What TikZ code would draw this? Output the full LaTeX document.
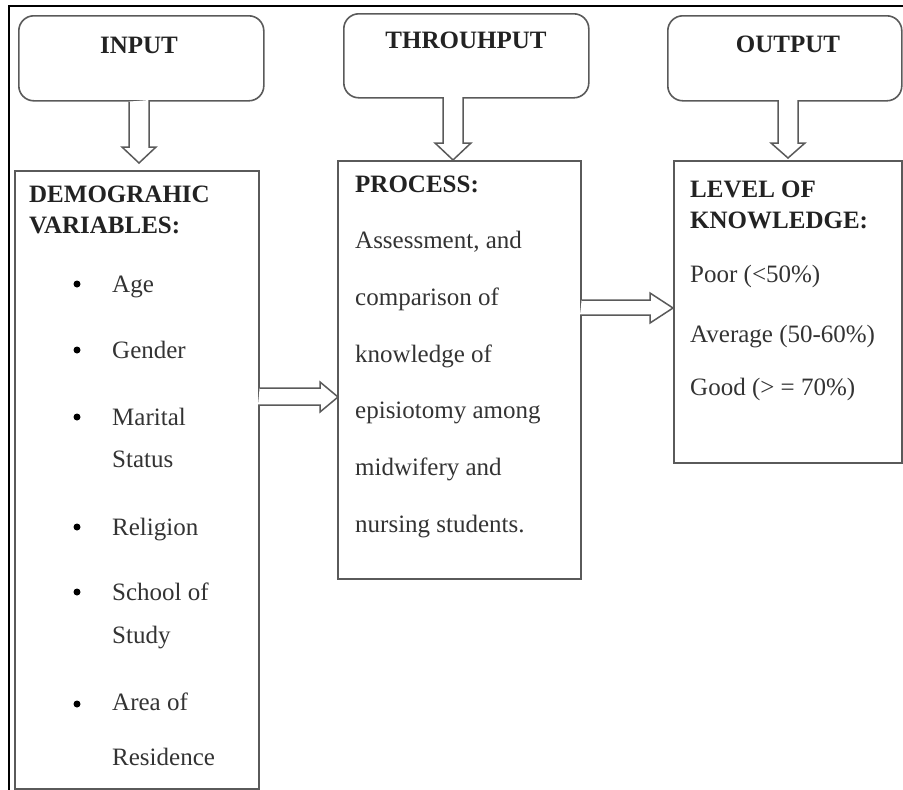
\documentclass[tikz,border=0pt]{standalone}
\usepackage{fontspec}
\setmainfont{Liberation Serif}
\usetikzlibrary{calc}
\definecolor{boxline}{HTML}{5A5A5A}
\definecolor{txt}{HTML}{222222}
\definecolor{ptxtc}{HTML}{333333}
\begin{document}
\begin{tikzpicture}[x=1pt,y=-1pt,
  box/.style={draw=boxline,line width=1.6pt,rectangle,inner sep=0pt,anchor=north west},
  headbox/.style={box,rounded corners=15pt},
  headtxt/.style={font=\fontsize{25}{25}\selectfont\bfseries,text=txt,inner sep=0pt,anchor=base},
  btxt/.style={font=\fontsize{25}{25}\selectfont\bfseries,text=txt,inner sep=0pt,anchor=base west},
  ptxt/.style={font=\fontsize{25}{25}\selectfont,text=ptxtc,inner sep=0pt,anchor=base west},
  bul/.style={circle,fill=black,inner sep=0pt,minimum size=7pt},
  blockarrow/.style={draw=boxline,line width=1.5pt,fill=white,line join=miter}]
\useasboundingbox (0,0) rectangle (903,790);
% outer frame (top and left edges)
\draw[black,line width=1.6pt] (9,790) -- (9,6) -- (903,6);

% header boxes
\node[headbox,minimum width=245pt,minimum height=85pt] (inp) at (18,15) {};
\node[headbox,minimum width=245pt,minimum height=84pt] (thr) at (343,13) {};
\node[headbox,minimum width=234pt,minimum height=85pt] (outp) at (667,15) {};
\node[headtxt] (inptxt) at (139,53) {INPUT};
\node[headtxt] (thrtxt) at (466,48) {THROUHPUT};
\node[headtxt] (outtxt) at (788,52) {OUTPUT};

% content boxes
\node[box,minimum width=244pt,minimum height=618pt] (demo) at (14,170) {};
\node[box,minimum width=243pt,minimum height=418pt] (proc) at (337,160) {};
\node[box,minimum width=228pt,minimum height=302pt] (lvl) at (673,160) {};

% demographic text
\node[btxt] (d1) at (29,202) {DEMOGRAHIC};
\node[btxt] (d2) at (29,233) {VARIABLES:};
\node[bul] (b1) at (77,284) {};
\node[ptxt] (i1) at (112,292) {Age};
\node[bul] (b2) at (77,350) {};
\node[ptxt] (i2) at (112,358) {Gender};
\node[bul] (b3) at (77,417) {};
\node[ptxt] (i3) at (112,425) {Marital};
\node[ptxt] (i3b) at (112,467) {Status};
\node[bul] (b4) at (77,527) {};
\node[ptxt] (i4) at (112,535) {Religion};
\node[bul] (b5) at (77,592) {};
\node[ptxt] (i5) at (112,600) {School of};
\node[ptxt] (i5b) at (112,643) {Study};
\node[bul] (b6) at (77,704) {};
\node[ptxt] (i6) at (112,710) {Area of};
\node[ptxt] (i6b) at (112,765) {Residence};

% process text
\node[btxt] (p0) at (355,192) {PROCESS:};
\node[ptxt] (p1) at (355,248) {Assessment, and};
\node[ptxt] (p2) at (355,305) {comparison of};
\node[ptxt] (p3) at (355,362) {knowledge of};
\node[ptxt] (p4) at (355,418) {episiotomy among};
\node[ptxt] (p5) at (355,475) {midwifery and};
\node[ptxt] (p6) at (355,532) {nursing students.};

% level text
\node[btxt] (l0) at (690,197) {LEVEL OF};
\node[btxt] (l1) at (690,228) {KNOWLEDGE:};
\node[ptxt] (l2) at (690,282) {Poor (<50\%)};
\node[ptxt] (l3) at (690,342) {Average (50-60\%)};
\node[ptxt] (l4) at (690,395) {Good (> = 70\%)};

% block arrows down
\draw[blockarrow] ($(inp.south west)+(111,0)$) -- (129,147) -- (122,147) -- (139,163) -- (156,147) -- (149,147) -- (149,100);
\draw[blockarrow] (443,97) -- (443,143) -- (435,143) -- (453,160) -- (471,143) -- (463,143) -- (463,97);
\draw[blockarrow] (778,100) -- (778,143) -- (771,143) -- (788,158) -- (805,143) -- (798,143) -- (798,100);
% block arrows right
\draw[blockarrow] (demo.east |- 0,388) -- (320,388) -- (320,382) -- (338,397) -- (320,412) -- (320,405) -- (258,405);
\draw[blockarrow] (proc.east |- 0,300) -- (650,300) -- (650,293) -- (673,308) -- (650,323) -- (650,315) -- (580,315);
\end{tikzpicture}
\end{document}
